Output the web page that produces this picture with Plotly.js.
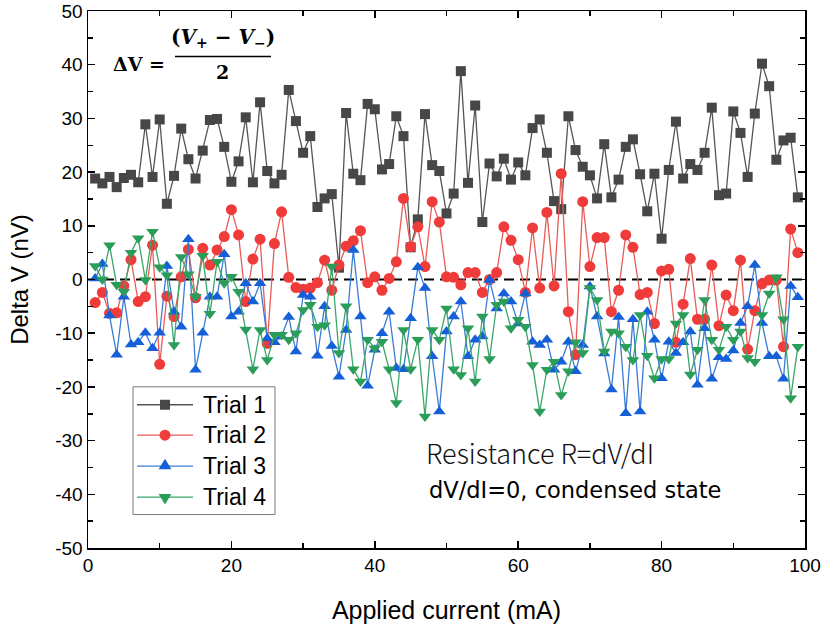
<!DOCTYPE html>
<html>
<head>
<meta charset="utf-8">
<script src="https://cdn.plot.ly/plotly-3.0.1.min.js"></script>
<style>html,body{margin:0;padding:0;background:#fff;}#chart{width:827px;height:632px;}</style>
</head>
<body>
<div id="chart"></div>
<script>
const current = [1,2,3,4,5,6,7,8,9,10,11,12,13,14,15,16,17,18,19,20,21,22,23,24,25,26,27,28,29,30,31,32,33,34,35,36,37,38,39,40,41,42,43,44,45,46,47,48,49,50,51,52,53,54,55,56,57,58,59,60,61,62,63,64,65,66,67,68,69,70,71,72,73,74,75,76,77,78,79,80,81,82,83,84,85,86,87,88,89,90,91,92,93,94,95,96,97,98,99];

const trial1 = [18.8,17.9,19.1,17.2,18.9,19.5,18.1,28.9,19.1,29.8,14.1,19.3,28.1,22.4,18.8,24.0,29.7,29.9,24.7,18.2,22.0,30.2,18.1,33.0,20.2,17.9,19.5,35.3,29.5,23.6,26.7,13.5,15.1,15.9,2.2,31.0,19.7,18.5,32.7,31.7,20.5,21.5,30.4,26.7,6.0,11.2,30.8,21.3,20.2,12.3,16.0,38.8,18.0,32.4,10.7,21.6,19.2,22.5,18.6,21.8,19.4,28.2,29.8,23.6,14.6,13.1,30.4,24.1,21.0,19.4,15.1,25.2,15.3,18.6,24.7,26.1,19.6,12.7,19.7,7.6,20.4,29.4,18.8,21.5,20.4,23.6,32.0,15.7,16.0,31.3,27.3,19.1,30.9,40.2,36.0,22.3,25.9,26.4,15.3];

const trial2 = [-4.3,-2.4,-6.3,-6.2,-1.2,3.7,-4.1,-3.2,6.4,-15.8,-3.1,-6.9,0.5,5.6,-3.4,5.8,2.7,5.5,8.0,13.0,8.3,-4.1,3.8,7.5,-11.9,6.7,12.6,0.4,-1.5,-1.8,-1.6,-0.6,3.6,-2.0,2.7,6.2,7.2,9.1,-0.6,0.5,-2.0,0.2,3.3,15.1,6.1,9.8,2.4,14.5,10.7,0.5,0.4,-1.0,1.3,1.3,-2.4,0.0,1.3,9.8,7.3,3.7,-2.4,9.6,-1.6,12.5,-1.2,19.7,-6.0,-14.0,14.5,2.4,7.8,7.8,-6.0,-2.0,8.3,6.0,-2.8,-2.4,-8.2,1.6,1.9,-11.7,-4.6,3.9,-7.4,-7.4,2.7,-8.6,-2.9,-5.8,3.6,-13.0,-5.8,-0.8,-0.1,-0.1,-12.5,9.4,5.0];

const trial3 = [0.2,2.9,-6.7,-14.0,-3.2,-12.1,-11.7,-9.9,-12.8,-9.9,2.5,-6.0,-8.8,7.5,-16.8,-9.9,-3.2,-3.2,4.7,-6.9,-6.0,-0.7,-4.1,-0.7,-11.0,-11.7,-10.6,-7.0,-13.4,-2.9,-3.2,-14.2,-5.0,-12.4,-18.1,-9.4,5.5,-6.9,-19.8,-13.1,-10.0,-6.0,-16.5,-16.7,-7.2,2.3,-1.6,-14.3,-24.6,-9.7,-6.9,-4.1,-14.3,-11.2,-10.6,-0.1,-5.4,-2.6,-4.1,-8.2,-2.6,-11.6,-12.2,-11.2,-16.8,-15.3,-11.6,-17.1,-12.2,-1.3,-6.9,-13.8,-20.5,-7.0,-24.9,-7.4,-24.6,-6.0,-11.2,-18.4,-11.6,-13.7,-11.7,-9.7,-19.6,-9.1,-18.5,-14.5,-14.8,-13.2,-8.1,-5.0,2.7,-8.1,-14.3,-14.3,-18.5,-1.2,-3.3];

const trial4 = [2.5,0.0,6.4,-1.0,-2.3,5.0,7.7,-0.1,8.9,2.3,0.8,-12.2,4.2,1.0,-3.2,4.4,-6.4,3.3,-0.7,0.5,-2.3,-9.3,-16.7,-9.4,-15.0,-10.3,-10.3,-11.2,-10.0,-5.7,-4.7,-8.8,-8.5,2.4,-13.7,-5.0,-16.7,-19.0,-11.2,-12.8,-11.6,-16.7,-23.0,-9.4,-16.7,-11.2,-25.5,-9.4,-11.2,-5.4,-16.7,-17.8,-9.1,-19.0,-6.9,-14.8,-4.7,-4.1,-9.1,-7.5,-8.8,-15.9,-24.6,-16.8,-15.3,-21.5,-17.1,-11.7,-13.7,-1.6,-3.8,-13.4,-9.7,-10.0,-12.5,-15.0,-6.6,-14.2,-18.4,-14.8,-14.8,-8.2,-6.6,-17.7,-13.1,-3.8,-11.2,-13.1,-8.8,-11.2,-9.7,-14.6,-15.3,-6.6,-2.6,0.4,-7.4,-22.1,-12.5];

const seriesNames = ["Trial 1","Trial 2","Trial 3","Trial 4"];
const xTickVals = [0,20,40,60,80,100];
const yTickVals = [50,40,30,20,10,0,-10,-20,-30,-40,-50];
const baselineX = [0,100];
const baselineY = [0,0];

// styles
const markerColors = ['#474747', '#f03b3b', '#1560d8', '#2a9e58'];
const lineColors = ['#555555', '#e85c58', '#3a7bd5', '#3aa66a'];
const symbols = ['square', 'circle', 'triangle-up', 'triangle-down'];
const sizes = [10, 11, 11, 11];

// plot-area geometry (px) for placing decorations
const PL = 88, PR = 805, PT = 10.5, PB = 548.5;
const px2x = p => (p - PL) / (PR - PL);
const py2y = p => (PB - p) / (PB - PT);

function tr(y, i) {
  return {x: current, y: y, name: seriesNames[i], type: 'scatter', mode: 'lines+markers',
    showlegend: false,
    line: {color: lineColors[i], width: 1.3},
    marker: {symbol: symbols[i], color: markerColors[i], size: sizes[i], line: {width: 0}}};
}

const data = [
  {x: baselineX, y: baselineY, mode: 'lines', type: 'scatter', showlegend: false,
   hoverinfo: 'skip', line: {color: '#000', width: 2, dash: '10px,6px'}},
  tr(trial1, 0), tr(trial2, 1), tr(trial3, 2), tr(trial4, 3)
];

// custom legend (box, sample lines, sample markers, labels)
const shapes = [
  {type: 'line', xref: 'paper', yref: 'paper', x0: px2x(175), x1: px2x(271), y0: py2y(56), y1: py2y(56),
   line: {color: '#000', width: 1.5}},
  {type: 'rect', xref: 'paper', yref: 'paper', x0: px2x(133), x1: px2x(275), y0: py2y(387), y1: py2y(515),
   line: {color: '#777', width: 1}, fillcolor: '#fff', layer: 'above'}
];
const legendRows = [405, 435.5, 466.5, 497.5];
const annotations = [];
const markerPaths = [
  'M-5,-5 H5 V5 H-5 Z',
  null,
  'M-6.4,-3.2 H6.4 L0,7.3 Z',
  'M-6.4,3.2 H6.4 L0,-7.3 Z'
];
legendRows.forEach((ry, i) => {
  shapes.push({type: 'line', xref: 'paper', yref: 'paper', layer: 'above',
    x0: px2x(137), x1: px2x(193), y0: py2y(ry), y1: py2y(ry),
    line: {color: lineColors[i], width: 1.3}});
  if (markerPaths[i]) {
    shapes.push({type: 'path', xref: 'paper', yref: 'paper', layer: 'above',
      xsizemode: 'pixel', ysizemode: 'pixel', xanchor: px2x(165), yanchor: py2y(ry),
      path: markerPaths[i], fillcolor: markerColors[i], line: {width: 0}});
  } else {
    shapes.push({type: 'circle', xref: 'paper', yref: 'paper', layer: 'above',
      xsizemode: 'pixel', ysizemode: 'pixel', xanchor: px2x(165), yanchor: py2y(ry),
      x0: -5.5, x1: 5.5, y0: -5.5, y1: 5.5, fillcolor: markerColors[i], line: {width: 0}});
  }
  annotations.push({xref: 'paper', yref: 'paper', x: px2x(201), y: py2y(ry),
    xanchor: 'left', yanchor: 'middle', text: seriesNames[i], showarrow: false,
    font: {family: 'Liberation Sans, Arial, sans-serif', size: 23, color: '#000'}});
});

annotations.push(
  {xref: 'paper', yref: 'paper', x: px2x(111), y: py2y(64), xanchor: 'left', yanchor: 'middle',
   text: '<b>ΔV =</b>', showarrow: false,
   font: {family: 'DejaVu Serif, serif', size: 19, color: '#000'}},
  {xref: 'paper', yref: 'paper', x: px2x(223), y: py2y(53), xanchor: 'center', yanchor: 'bottom',
   text: '<b>(<i>V</i><sub>+</sub> − <i>V</i><sub>−</sub>)</b>', showarrow: false,
   font: {family: 'DejaVu Serif, serif', size: 20, color: '#000'}},
  {xref: 'paper', yref: 'paper', x: px2x(222), y: py2y(59), xanchor: 'center', yanchor: 'top',
   text: '<b>2</b>', showarrow: false,
   font: {family: 'DejaVu Serif, serif', size: 19, color: '#000'}},
  {xref: 'paper', yref: 'paper', x: px2x(424), y: py2y(453), xanchor: 'left', yanchor: 'middle',
   text: 'Resistance R=dV/dI', showarrow: false,
   font: {family: 'Noto Sans CJK KR, Noto Sans, sans-serif', size: 27, color: '#111', weight: 300}},
  {xref: 'paper', yref: 'paper', x: px2x(427), y: py2y(490), xanchor: 'left', yanchor: 'middle',
   text: 'dV/dI=0, condensed state', showarrow: false,
   font: {family: 'DejaVu Sans, sans-serif', size: 22.5, color: '#000'}}
);

const axisCommon = {
  showline: true, linecolor: '#000', linewidth: 1.5, mirror: 'ticks',
  ticks: 'inside', ticklen: 7, tickwidth: 1.5, tickcolor: '#000',
  showgrid: false, zeroline: false,
  tickfont: {family: 'Liberation Sans, Arial, sans-serif', size: 19, color: '#000'}
};

const layout = {
  width: 827, height: 632,
  margin: {l: PL, r: 827 - PR, t: PT, b: 632 - PB},
  paper_bgcolor: '#fff', plot_bgcolor: '#fff',
  showlegend: false,
  xaxis: Object.assign({}, axisCommon, {
    range: [0, 100], tickvals: xTickVals, ticktext: xTickVals.map(String),
    minor: {dtick: 10, ticks: 'inside', ticklen: 5, tickwidth: 1.5, tickcolor: '#000'},
    title: {text: 'Applied current (mA)', standoff: 26,
      font: {family: 'Liberation Sans, Arial, sans-serif', size: 25, color: '#000'}}
  }),
  yaxis: Object.assign({}, axisCommon, {
    range: [-50, 50], tickvals: yTickVals, ticktext: yTickVals.map(String),
    minor: {dtick: 5, ticks: 'inside', ticklen: 5, tickwidth: 1.5, tickcolor: '#000'},
    title: {text: 'Delta V (nV)', standoff: 20,
      font: {family: 'Liberation Sans, Arial, sans-serif', size: 24, color: '#000'}}
  }),
  shapes: shapes,
  annotations: annotations
};

Plotly.newPlot('chart', data, layout, {displayModeBar: false, staticPlot: true});
</script>
</body>
</html>
